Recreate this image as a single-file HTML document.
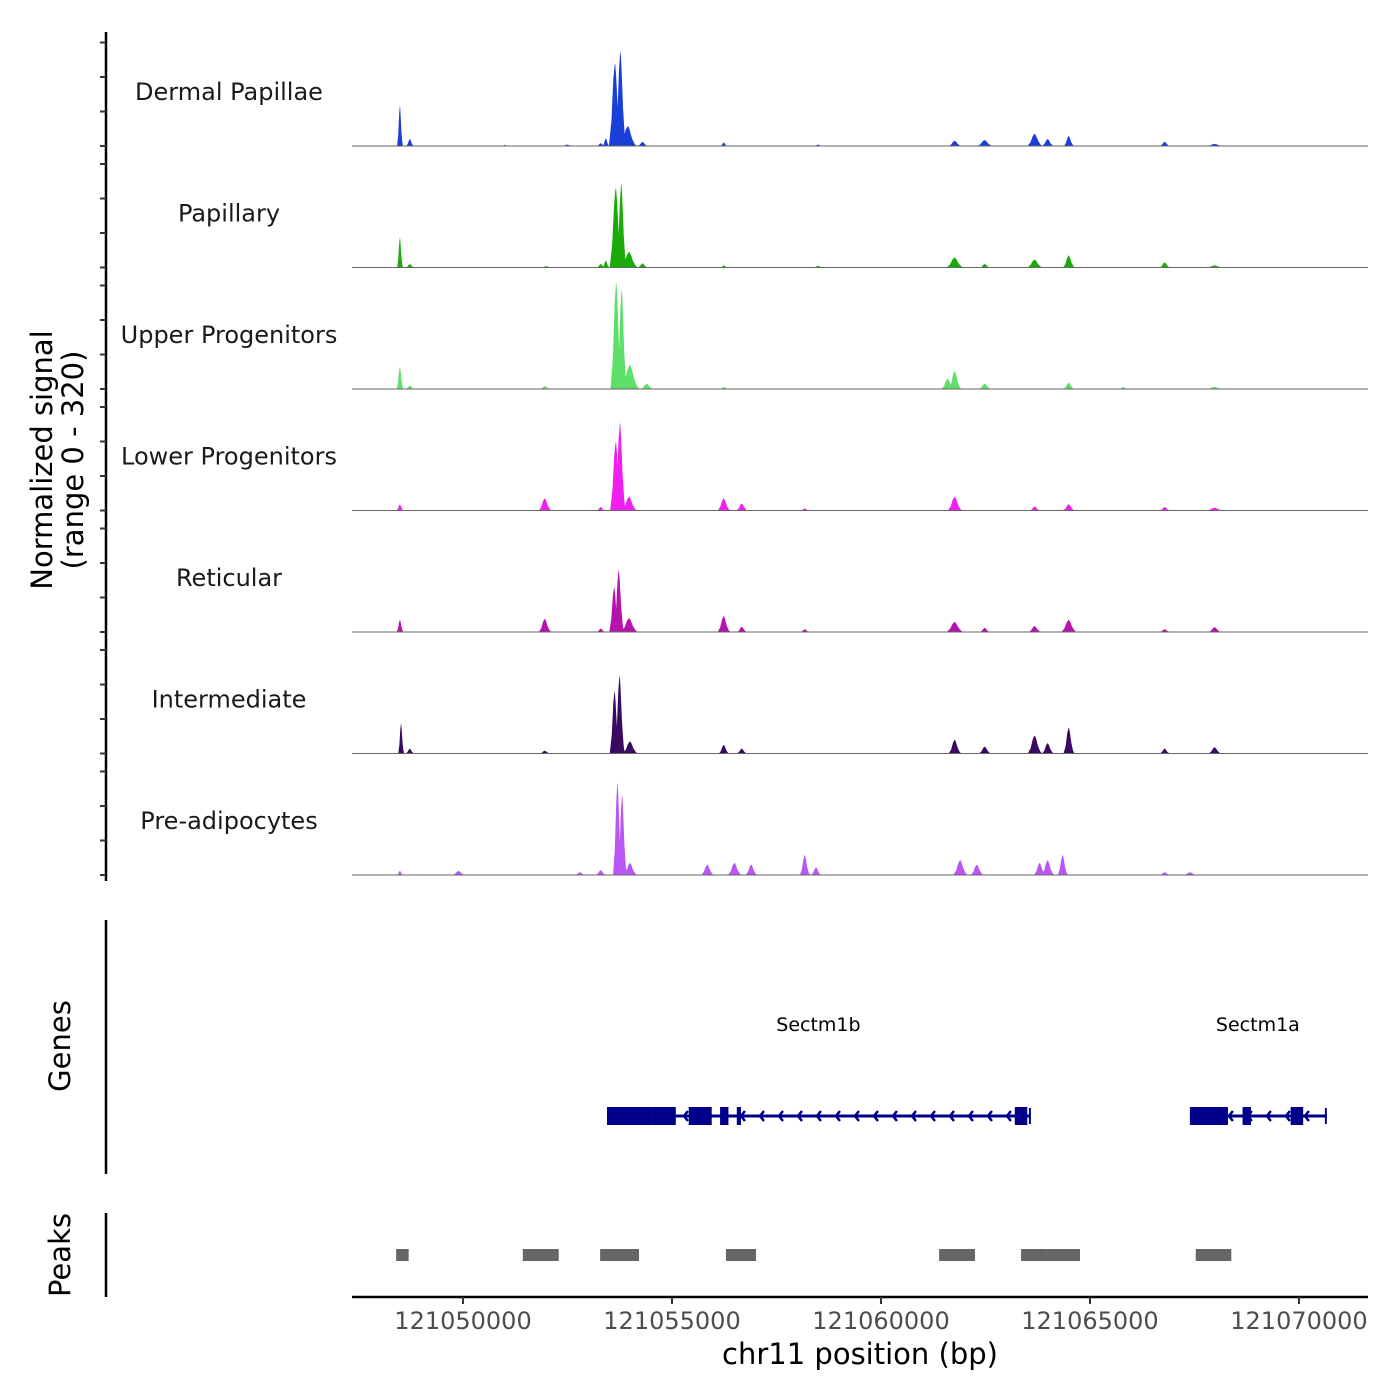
<!DOCTYPE html>
<html><head><meta charset="utf-8"><style>
body{margin:0;background:#fff}
svg{display:block;font-family:"DejaVu Sans","Liberation Sans",sans-serif}
</style></head><body>
<svg id="c" width="1400" height="1400" viewBox="0 0 1400 1400">
<rect width="1400" height="1400" fill="#fff"/>
</svg>
<script>
// ---- data ----
const trackNames = ["Dermal Papillae","Papillary","Upper Progenitors","Lower Progenitors","Reticular","Intermediate","Pre-adipocytes"];
const trackColors = ["#1a3fd8","#1aab0a","#5ddf6a","#f01ef0","#b512ae","#3a0a63","#b857f5"];
// peaks: [center bp, height (0-320), half-width bp]
const sigDP = [[121048493,116,70],[121048732,20,90],[121051000,3,80],[121052500,4,120],[121053300,8,100],[121053420,22,80],[121053640,240,150],[121053770,275,130],[121053950,58,200],[121054300,12,120],[121056243,10,80],[121058500,4,100],[121061769,15,150],[121062487,17,180],[121063682,35,180],[121063993,20,140],[121064496,29,120],[121066792,12,120],[121067988,6,200]];
const sigPap = [[121048493,87,70],[121048732,10,100],[121052000,4,120],[121053300,10,100],[121053420,20,80],[121053660,232,150],[121053790,243,120],[121053980,45,200],[121054300,12,120],[121056243,6,80],[121058500,5,100],[121061769,29,200],[121062487,10,120],[121063682,23,180],[121064496,35,140],[121066792,15,120],[121067988,6,200]];
const sigUp = [[121048493,64,80],[121048732,10,100],[121051962,8,120],[121053670,310,140],[121053800,290,120],[121054000,70,220],[121054400,15,150],[121056243,6,100],[121061600,30,150],[121061769,52,150],[121062487,15,150],[121064496,18,130],[121065800,5,120],[121067988,6,200]];
const sigLow = [[121048493,18,80],[121051962,35,150],[121053300,10,100],[121053660,200,140],[121053760,255,130],[121053980,40,180],[121056243,35,150],[121056674,20,130],[121058181,6,100],[121061769,40,170],[121063682,12,120],[121064496,18,140],[121066792,10,120],[121067988,8,200]];
const sigRet = [[121048493,35,80],[121051962,38,150],[121053300,10,100],[121053620,130,120],[121053730,180,120],[121053980,40,200],[121056243,46,150],[121056674,15,120],[121058181,8,100],[121061769,29,200],[121062487,12,120],[121063682,17,150],[121064496,35,180],[121066792,8,120],[121067988,14,150]];
const sigInt = [[121048520,87,70],[121048732,14,100],[121051962,8,120],[121053630,180,120],[121053750,226,120],[121054000,35,180],[121056243,25,120],[121056674,14,120],[121061769,40,150],[121062487,20,140],[121063682,52,170],[121063993,30,140],[121064496,75,130],[121066792,14,120],[121067988,18,150]];
const sigPre = [[121048493,12,70],[121049900,12,150],[121052800,8,120],[121053300,14,120],[121053700,267,110],[121053810,232,110],[121054000,35,160],[121055850,30,150],[121056500,35,160],[121056900,30,140],[121058181,58,120],[121058450,22,120],[121061900,43,170],[121062300,30,150],[121063800,35,140],[121063993,43,150],[121064350,58,120],[121066792,8,120],[121067400,8,150]];
const signals = [sigDP,sigPap,sigUp,sigLow,sigRet,sigInt,sigPre];
const xTicks = [121050000,121055000,121060000,121065000,121070000];
const yTicks = [0,100,200,300];
const geneNames = ["Sectm1b","Sectm1a"];
const geneSpans = [[121053444,121063563],[121067390,121070643]];
const geneExons = [[[121053444,121054520],[121054520,121055090],[121055400,121055950],[121056150,121056350],[121056550,121056650],[121063200,121063500]],
                   [[121067390,121068300],[121068650,121068850],[121069800,121070100]]];
const peaksRegions = [[121048400,121048700],[121051430,121052290],[121053280,121054210],[121056290,121057010],[121061390,121062250],[121063350,121063970],[121063970,121064760],[121067530,121068380]];
// ---- scales ----
const X0=352, X1=1368, D0=121047344, D1=121071651;
const xs = bp => X0 + (bp - D0) * (X1 - X0) / (D1 - D0);
const baselines = i => 146 + i * 121.5;
const ys = (i, v) => baselines(i) - v * 0.345;
const NS="http://www.w3.org/2000/svg";
const svg=document.getElementById('c');
function mk(tag, attrs, parent){const e=document.createElementNS(NS,tag);for(const k in attrs)e.setAttribute(k,attrs[k]);(parent||svg).appendChild(e);return e;}
const ax=mk('line',{x1:106,y1:32,x2:106,y2:881,stroke:'#000','stroke-width':2.5});


trackNames.forEach((name,i)=>{
  const g=mk('g',{});
  
  
  yTicks.forEach(t=>{const tk=mk('line',{x1:100,x2:106,y1:ys(i,t),y2:ys(i,t),stroke:'#333','stroke-width':2},g);
    
    });
  const sig=signals[i];
  let d='';
  const b=baselines(i);
  sig.slice().sort((a,b)=>a[0]-b[0]).forEach(p=>{
    const c=xs(p[0]), w=xs(p[0]+p[2])-c, h=p[1];
    d+=`M${c-w},${b} L${c-w*0.6},${ys(i,h*0.3)} L${c-w*0.3},${ys(i,h*0.8)} L${c-w*0.1},${ys(i,h*0.97)} L${c},${ys(i,h)} L${c+w*0.15},${ys(i,h*0.85)} L${c+w*0.45},${ys(i,h*0.4)} L${c+w*0.75},${ys(i,h*0.12)} L${c+w},${b} Z `;
  });
  const ar=mk('path',{d:d,fill:trackColors[i]},g);
  
  
  const bl=mk('line',{x1:X0,x2:X1,y1:b,y2:b,stroke:'#666','stroke-width':1},g);
  
  
  const tx=mk('text',{x:229,y:b-46,'text-anchor':'middle','font-size':24,fill:'#1a1a1a'},g);
  tx.textContent=name;
  
  
});
const yt=mk('text',{transform:'translate(52,460) rotate(-90)','text-anchor':'middle','font-size':29,fill:'#000'});
yt.innerHTML='<tspan x="0" dy="0">Normalized signal</tspan><tspan x="0" dy="31">(range 0 - 320)</tspan>';


const ga=mk('line',{x1:106,y1:920,x2:106,y2:1174,stroke:'#000','stroke-width':2.5});


const gt=mk('text',{transform:'translate(70,1046) rotate(-90)','text-anchor':'middle','font-size':29});gt.textContent='Genes';


geneNames.forEach((n,k)=>{
  const g=mk('g',{});
  
  
  const s=geneSpans[k];
  mk('line',{x1:xs(s[0]),x2:xs(s[1]),y1:1116,y2:1116,stroke:'#00008b','stroke-width':3},g);
  for(let x=xs(s[0])+20;x<xs(s[1])-10;x+=19){mk('path',{d:`M${x+4},${1111} L${x},${1116} L${x+4},${1121}`,stroke:'#00008b','stroke-width':2.5,fill:'none'},g);}
  geneExons[k].forEach(e=>mk('rect',{x:xs(e[0]),y:1107,width:xs(e[1])-xs(e[0]),height:18,fill:'#00008b'},g));
  mk('line',{x1:xs(s[1]),x2:xs(s[1]),y1:1108,y2:1124,stroke:'#00008b','stroke-width':2},g);
  const t=mk('text',{x:(xs(s[0])+xs(s[1]))/2,y:1031,'text-anchor':'middle','font-size':19,fill:'#000'},g);t.textContent=n;
});
const pa=mk('line',{x1:106,y1:1213,x2:106,y2:1297,stroke:'#000','stroke-width':2.5});


const pt=mk('text',{transform:'translate(70,1255) rotate(-90)','text-anchor':'middle','font-size':29});pt.textContent='Peaks';


peaksRegions.forEach(p=>{const r=mk('rect',{x:xs(p[0]),y:1249,width:xs(p[1])-xs(p[0]),height:12,fill:'#666'});
  
  });
const xa=mk('line',{x1:X0,x2:X1,y1:1297,y2:1297,stroke:'#000','stroke-width':2.5});


xTicks.forEach(t=>{
  const l=mk('line',{x1:xs(t),x2:xs(t),y1:1297,y2:1304,stroke:'#333','stroke-width':2});
  
  
  const tx=mk('text',{x:xs(t),y:1329,'text-anchor':'middle','font-size':24,fill:'#4d4d4d'});tx.textContent=String(t);
  
  
});
const xt=mk('text',{x:860,y:1364,'text-anchor':'middle','font-size':29,fill:'#000'});xt.textContent='chr11 position (bp)';


</script>
</body></html>
